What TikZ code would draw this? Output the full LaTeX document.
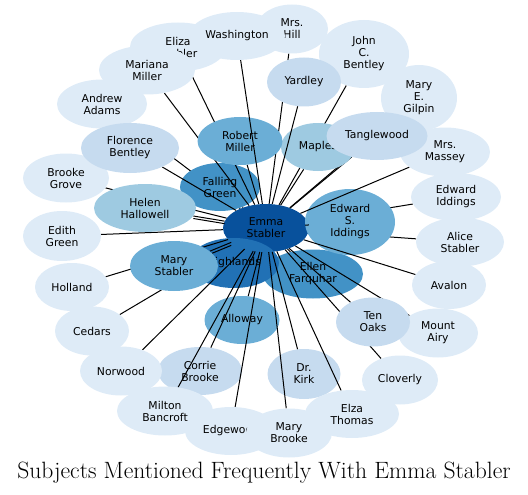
\documentclass[tikz,border=0pt]{standalone}
\usepackage{fontspec}
\usetikzlibrary{shapes.geometric}
\newfontfamily\labelfont{DejaVu Sans}
\definecolor{Blue1}{HTML}{DEEBF7}
\definecolor{Blue2}{HTML}{C6DBEF}
\definecolor{Blue3}{HTML}{9ECAE1}
\definecolor{Blue4}{HTML}{6BAED6}
\definecolor{Blue5}{HTML}{4292C6}
\definecolor{Blue6}{HTML}{2171B5}
\definecolor{Blue7}{HTML}{08519C}
\pgfdeclarelayer{bgedges}
\pgfdeclarelayer{lownodes}
\pgfdeclarelayer{midedges}
\pgfdeclarelayer{topedges}
\pgfsetlayers{bgedges,lownodes,midedges,main,topedges}

\begin{document}
\begin{tikzpicture}[x=1pt,y=-1pt,
    subj/.style={ellipse,inner sep=0pt,minimum height=49pt,align=center,
      font=\labelfont\fontsize{10.8}{12}\selectfont},
    link/.style={line width=1pt,black},
    title/.style={font=\fontsize{23.6}{26}\selectfont,anchor=base}
  ]
  \useasboundingbox (0,0) rectangle (528,495);

  % nodes that edges run across
  \begin{pgfonlayer}{lownodes}
    \node[subj,fill=Blue5,minimum width=100pt] (ellen) at (313,274) {Ellen\\Farquhar};
    \node[subj,fill=Blue7,minimum width=86pt,minimum height=48pt] (emma) at (266,228) {Emma\\Stabler};
    \node[subj,fill=Blue6,minimum width=90pt,minimum height=50pt] (highlands) at (234,263) {Highlands};
    \node[subj,fill=Blue4,minimum width=90pt,minimum height=66pt] (iddingsS) at (350,222) {Edward\\S.\\Iddings};
    \node[subj,fill=Blue5,minimum width=80pt,minimum height=48pt] (falling) at (220,187) {Falling\\Green};
    \node[subj,fill=Blue4,minimum width=75pt,minimum height=48pt] (alloway) at (242,320) {Alloway};
    \node[subj,fill=Blue2,minimum width=84pt,minimum height=48pt] (corrie) at (200,371) {Corrie\\Brooke};
    \node[subj,fill=Blue2,minimum width=73pt,minimum height=50pt] (kirk) at (304,374) {Dr.\\Kirk};
  \end{pgfonlayer}

  % outer ring
  \node[subj,fill=Blue1,minimum width=96pt] (eliza) at (178,47) {Eliza\\Stabler};
  \node[subj,fill=Blue1,minimum width=96pt] (mariana) at (147,70) {Mariana\\Miller};
  \node[subj,fill=Blue1,minimum width=72pt] (hill) at (292,29) {Mrs.\\Hill};
  \node[subj,fill=Blue1,minimum width=96pt,minimum height=48pt] (washington) at (237,36) {Washington};
  \node[subj,fill=Blue1,minimum width=90pt] (andrew) at (102,104) {Andrew\\Adams};
  \node[subj,fill=Blue1,minimum width=86pt] (grove) at (66,178) {Brooke\\Grove};
  \node[subj,fill=Blue1,minimum width=78pt,minimum height=50pt] (edith) at (62,236) {Edith\\Green};
  \node[subj,fill=Blue1,minimum width=74pt,minimum height=48pt] (holland) at (72,287) {Holland};
  \node[subj,fill=Blue1,minimum width=74pt] (cedars) at (92,331) {Cedars};
  \node[subj,fill=Blue1,minimum width=82pt] (norwood) at (121,371) {Norwood};
  \node[subj,fill=Blue1,minimum width=96pt] (milton) at (165,411) {Milton\\Bancroft};
  \node[subj,fill=Blue1,minimum width=92pt,minimum height=48pt] (edgewood) at (231,431) {Edgewood};
  \node[subj,fill=Blue1,minimum width=86pt] (marybrooke) at (289,433) {Mary\\Brooke};
  \node[subj,fill=Blue1,minimum width=94pt,minimum height=48pt] (elza) at (352,414) {Elza\\Thomas};
  \node[subj,fill=Blue1,minimum width=76pt] (cloverly) at (400,380) {Cloverly};
  \node[subj,fill=Blue1,minimum width=80pt] (airy) at (438,333) {Mount\\Airy};
  \node[subj,fill=Blue1,minimum width=74pt,minimum height=48pt] (avalon) at (449,285) {Avalon};
  \node[subj,fill=Blue1,minimum width=88pt] (alice) at (460,242) {Alice\\Stabler};
  \node[subj,fill=Blue1,minimum width=90pt,minimum height=48pt] (iddings) at (456,197) {Edward\\Iddings};
  \node[subj,fill=Blue1,minimum width=90pt] (massey) at (445,152) {Mrs.\\Massey};
  \node[subj,fill=Blue1,minimum width=76pt,minimum height=66pt] (gilpin) at (419,98) {Mary\\E.\\Gilpin};
  \node[subj,fill=Blue1,minimum width=90pt,minimum height=68pt] (john) at (364,54) {John\\C.\\Bentley};

  % inner ring
  \node[subj,fill=Blue2,minimum width=74pt] (yardley) at (304,82) {Yardley};
  \node[subj,fill=Blue2,minimum width=98pt,minimum height=50pt] (florence) at (130,148) {Florence\\Bentley};
  \node[subj,fill=Blue3,minimum width=102pt,minimum height=48pt] (helen) at (145,208) {Helen\\Hallowell};
  \node[subj,fill=Blue4,minimum width=88pt,minimum height=50pt] (marystabler) at (174,266) {Mary\\Stabler};
  \node[subj,fill=Blue3,minimum width=74pt,minimum height=48pt] (maples) at (318,147) {Maples};
  \node[subj,fill=Blue2,minimum width=101pt,minimum height=48pt] (tanglewood) at (377,136) {Tanglewood};
  \node[subj,fill=Blue2,minimum width=74pt] (tenoaks) at (373,322) {Ten\\Oaks};
  \node[subj,fill=Blue4,minimum width=85pt,minimum height=48pt] (robert) at (240,141) {Robert\\Miller};

  % edges
  \begin{pgfonlayer}{bgedges}
    \foreach \n in {andrew,cedars,iddings,alice,highlands,ellen}
      \draw[link] (\n) -- (emma);
  \end{pgfonlayer}
  \begin{pgfonlayer}{midedges}
    \foreach \n in {hill,eliza,mariana,robert,falling,florence,grove,helen,edith,holland,
        marystabler,norwood,milton,corrie,alloway,edgewood,marybrooke,kirk,elza,
        cloverly,tenoaks,airy,avalon,massey,iddingsS,tanglewood,gilpin,john,maples}
      \draw[link] (\n) -- (emma);
    \draw[link,transform canvas={yshift=-2.5pt}] (helen) -- (emma);
    \draw[link,transform canvas={yshift=-3pt}] (marystabler) -- (emma);
  \end{pgfonlayer}
  \begin{pgfonlayer}{topedges}
    \draw[link] (washington) -- (emma);
    \draw[link] (yardley) -- (emma);
  \end{pgfonlayer}

  \node[title] (caption) at (264,478) {Subjects Mentioned Frequently With Emma Stabler};
\end{tikzpicture}
\end{document}
